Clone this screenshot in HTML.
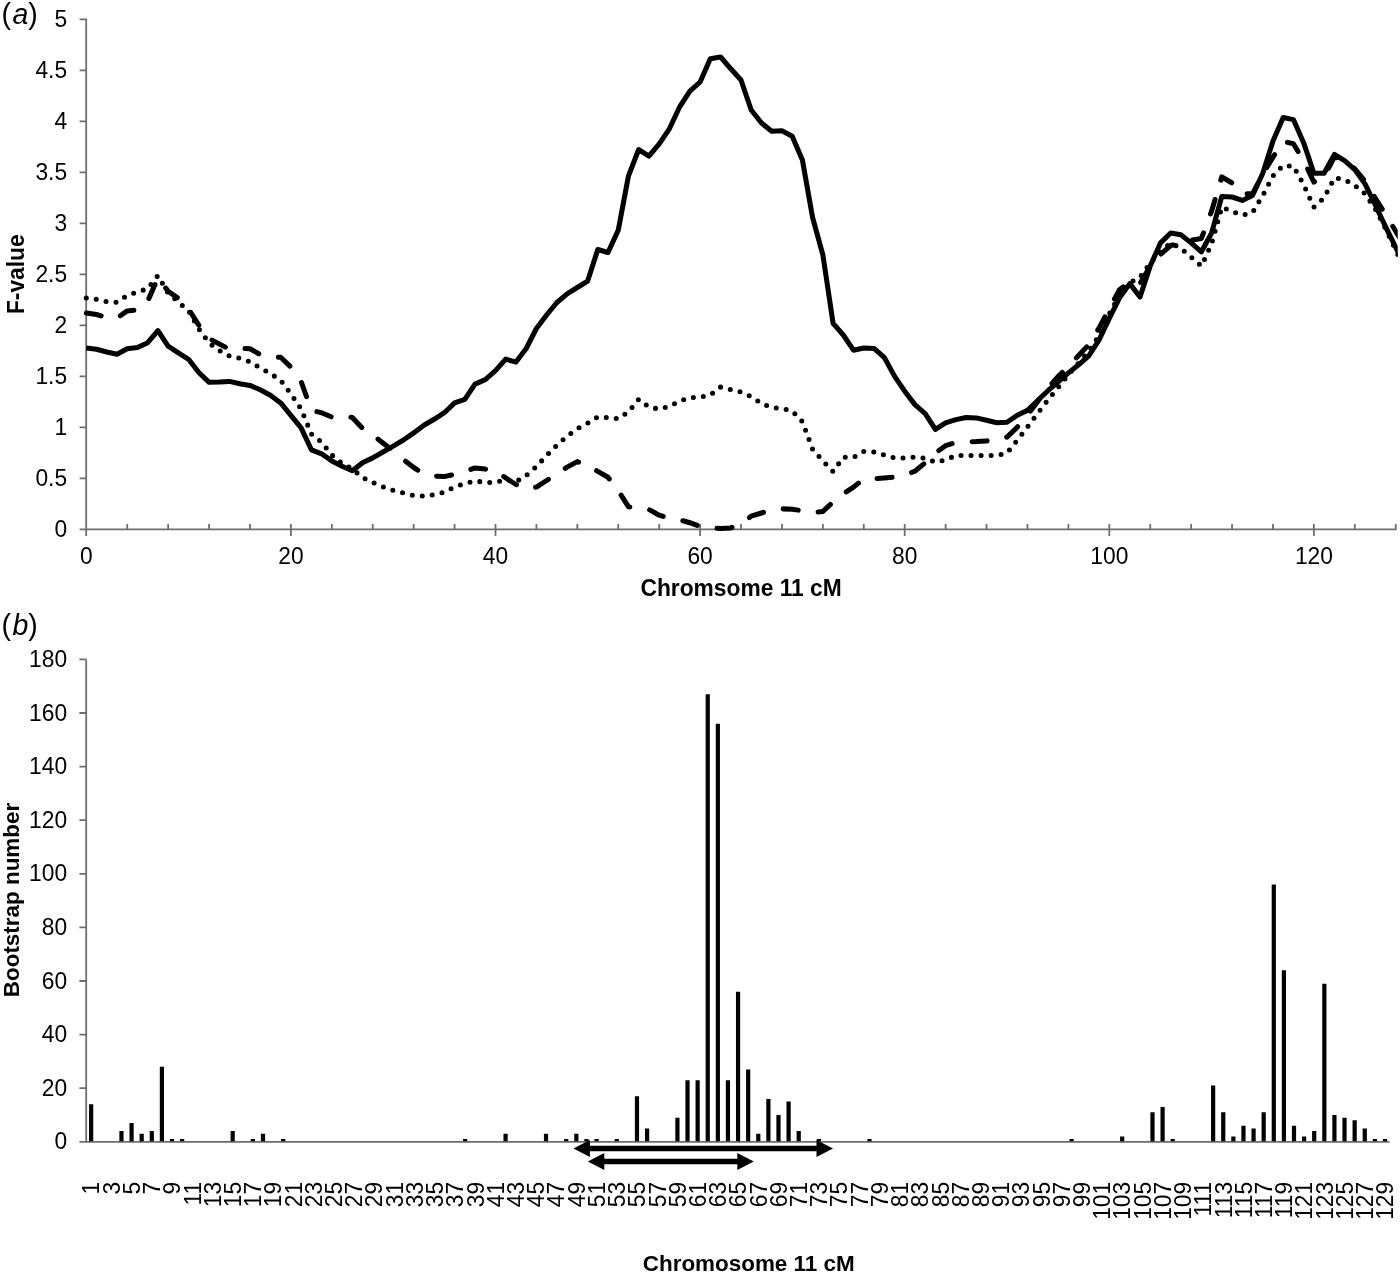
<!DOCTYPE html>
<html lang="en"><head><meta charset="utf-8"><title>Chromosome 11 QTL scan</title>
<style>html,body{margin:0;padding:0;background:#fff}svg{display:block}text{font-family:"Liberation Sans",Arial,sans-serif;fill:#000}.t{font-size:22.8px}.b{font-size:22.8px;font-weight:bold}.b2{font-size:22.45px;font-weight:bold}.p{font-size:28.5px}.ax{stroke:#6e6e6e;stroke-width:1.8;fill:none}.ln{stroke:#000;stroke-width:5.04;fill:none;stroke-linejoin:round}</style></head><body>
<svg width="1400" height="1274" viewBox="0 0 1400 1274">
<rect width="1400" height="1274" fill="#fff"/>
<g id="panel-a">
<text class="p" transform="translate(1.50 23.60) scale(1 1.020)">(</text>
<text class="p" transform="translate(12.50 23.80) scale(1 1.060)" font-style="italic">a</text>
<text class="p" transform="translate(28.30 23.60) scale(1 1.020)">)</text>
<path class="ax" d="M86.20 18.50V536.10 M79.60 529.30H1396.64 M79.60 478.30H86.20 M79.60 427.30H86.20 M79.60 376.30H86.20 M79.60 325.30H86.20 M79.60 274.30H86.20 M79.60 223.30H86.20 M79.60 172.30H86.20 M79.60 121.30H86.20 M79.60 70.30H86.20 M79.60 19.30H86.20 M127.22 524.00V529.30 M168.14 524.00V529.30 M209.06 524.00V529.30 M249.98 524.00V529.30 M290.90 524.00V536.10 M331.82 524.00V529.30 M372.74 524.00V529.30 M413.66 524.00V529.30 M454.58 524.00V529.30 M495.50 524.00V536.10 M536.42 524.00V529.30 M577.34 524.00V529.30 M618.26 524.00V529.30 M659.18 524.00V529.30 M700.10 524.00V536.10 M741.02 524.00V529.30 M781.94 524.00V529.30 M822.86 524.00V529.30 M863.78 524.00V529.30 M904.70 524.00V536.10 M945.62 524.00V529.30 M986.54 524.00V529.30 M1027.46 524.00V529.30 M1068.38 524.00V529.30 M1109.30 524.00V536.10 M1150.22 524.00V529.30 M1191.14 524.00V529.30 M1232.06 524.00V529.30 M1272.98 524.00V529.30 M1313.90 524.00V536.10 M1354.82 524.00V529.30 M1395.74 524.00V529.30"/>
<text class="t" text-anchor="end" transform="translate(67.10 536.90) scale(1 1.040)">0</text>
<text class="t" text-anchor="end" transform="translate(67.10 485.90) scale(1 1.040)">0.5</text>
<text class="t" text-anchor="end" transform="translate(67.10 434.90) scale(1 1.040)">1</text>
<text class="t" text-anchor="end" transform="translate(67.10 383.90) scale(1 1.040)">1.5</text>
<text class="t" text-anchor="end" transform="translate(67.10 332.90) scale(1 1.040)">2</text>
<text class="t" text-anchor="end" transform="translate(67.10 281.90) scale(1 1.040)">2.5</text>
<text class="t" text-anchor="end" transform="translate(67.10 230.90) scale(1 1.040)">3</text>
<text class="t" text-anchor="end" transform="translate(67.10 179.90) scale(1 1.040)">3.5</text>
<text class="t" text-anchor="end" transform="translate(67.10 128.90) scale(1 1.040)">4</text>
<text class="t" text-anchor="end" transform="translate(67.10 77.90) scale(1 1.040)">4.5</text>
<text class="t" text-anchor="end" transform="translate(67.10 26.90) scale(1 1.040)">5</text>
<text class="t" text-anchor="middle" transform="translate(86.30 564.00) scale(1 1.040)">0</text>
<text class="t" text-anchor="middle" transform="translate(290.90 564.00) scale(1 1.040)">20</text>
<text class="t" text-anchor="middle" transform="translate(495.50 564.00) scale(1 1.040)">40</text>
<text class="t" text-anchor="middle" transform="translate(700.10 564.00) scale(1 1.040)">60</text>
<text class="t" text-anchor="middle" transform="translate(904.70 564.00) scale(1 1.040)">80</text>
<text class="t" text-anchor="middle" transform="translate(1109.30 564.00) scale(1 1.040)">100</text>
<text class="t" text-anchor="middle" transform="translate(1313.90 564.00) scale(1 1.040)">120</text>
<text class="b" text-anchor="middle" transform="translate(741.10 596.00) scale(1 1.020)">Chromsome 11 cM</text>
<text class="b" text-anchor="middle" transform="translate(24.10 274.20) rotate(-90) scale(1 1.020)">F-value</text>
<clipPath id="plot-a"><rect x="80" y="0" width="1317.7" height="545"/></clipPath>
<g clip-path="url(#plot-a)">
<polyline class="ln" stroke-dasharray="0 10.03" stroke-linecap="round" points="86.3,298.0 96.5,299.3 106.8,301.6 117.0,302.3 127.2,295.4 137.4,292.1 147.7,288.6 157.9,275.7 168.1,293.0 178.4,302.0 188.6,310.9 198.8,328.8 209.1,343.0 219.3,350.5 229.5,355.9 239.8,358.2 250.0,361.8 260.2,368.0 270.4,373.4 280.7,380.5 290.9,393.9 301.1,409.1 311.4,434.1 321.6,442.1 331.8,455.0 342.1,463.6 352.3,468.9 362.5,477.5 372.7,482.5 383.0,486.8 393.2,490.4 403.4,493.0 413.7,495.5 423.9,496.2 434.1,494.6 444.4,492.3 454.6,486.8 464.8,483.8 475.0,480.9 485.3,482.5 495.5,482.5 505.7,479.6 516.0,481.8 526.2,475.5 536.4,466.6 546.6,455.5 556.9,445.2 567.1,436.2 577.3,428.6 587.6,423.2 597.8,417.0 608.0,417.5 618.3,418.8 628.5,411.8 638.7,399.3 648.9,407.1 659.2,409.1 669.4,406.4 679.6,401.1 689.9,397.7 700.1,397.1 710.3,395.0 720.6,387.1 730.8,389.6 741.0,392.0 751.2,396.6 761.5,403.4 771.7,407.5 781.9,408.6 792.2,410.9 802.4,421.6 812.6,449.3 822.9,460.9 833.1,471.6 843.3,457.3 853.5,457.3 863.8,451.4 874.0,452.1 884.2,455.0 894.5,458.0 904.7,457.9 914.9,457.0 925.2,458.2 935.4,462.3 945.6,460.0 955.9,455.4 966.1,455.4 976.3,455.4 986.5,455.4 996.8,455.4 1007.0,453.2 1017.2,440.4 1027.5,427.0 1037.7,413.4 1047.9,400.0 1058.2,387.5 1068.4,374.6 1078.6,363.0 1088.8,351.4 1099.1,335.4 1109.3,313.9 1119.5,295.2 1129.8,282.7 1140.0,277.3 1150.2,263.0 1160.5,251.8 1170.7,242.9 1180.9,248.2 1191.1,257.1 1201.4,266.1 1211.6,243.8 1221.8,207.1 1232.1,211.6 1242.3,215.2 1252.5,212.5 1262.8,195.5 1273.0,175.9 1283.2,165.5 1293.4,166.2 1303.7,184.8 1313.9,207.1 1324.1,197.9 1334.4,177.9 1344.6,179.5 1354.8,185.4 1365.0,193.8 1375.3,208.9 1385.5,228.6 1395.7,250.0 1406.0,271.4"/>
<polyline class="ln" stroke-dasharray="15.1 20.15" stroke-linecap="round" points="86.3,313.0 96.5,314.5 106.8,317.5 117.0,318.0 127.2,310.9 137.4,310.0 147.7,301.1 157.9,277.9 168.1,291.2 178.4,298.4 188.6,309.1 198.8,325.2 209.1,338.6 219.3,343.9 229.5,349.3 239.8,348.4 250.0,348.8 260.2,354.6 270.4,357.3 280.7,357.3 290.9,367.1 301.1,381.4 311.4,410.4 321.6,412.7 331.8,417.1 342.1,415.7 352.3,417.5 362.5,428.2 372.7,435.0 383.0,443.0 393.2,451.1 403.4,459.6 413.7,467.5 423.9,473.9 434.1,476.1 444.4,476.6 454.6,474.3 464.8,471.6 475.0,467.9 485.3,469.1 495.5,470.7 505.7,477.9 516.0,484.5 526.2,488.9 536.4,487.1 546.6,480.5 556.9,473.8 567.1,467.1 577.3,461.6 587.6,465.7 597.8,471.4 608.0,477.3 618.3,490.7 628.5,506.8 638.7,507.7 648.9,509.5 659.2,515.2 669.4,518.4 679.6,519.8 689.9,522.7 700.1,526.4 710.3,527.9 720.6,528.6 730.8,527.9 741.0,523.4 751.2,516.2 761.5,513.0 771.7,509.6 781.9,508.8 792.2,509.3 802.4,510.7 812.6,512.7 822.9,511.4 833.1,502.0 843.3,493.9 853.5,487.1 863.8,478.8 874.0,478.8 884.2,477.9 894.5,477.0 904.7,475.2 914.9,471.2 925.2,462.7 935.4,452.9 945.6,445.7 955.9,442.5 966.1,442.0 976.3,441.6 986.5,440.9 996.8,440.4 1007.0,437.1 1017.2,427.3 1027.5,414.8 1037.7,401.4 1047.9,388.0 1058.2,376.4 1068.4,366.6 1078.6,355.5 1088.8,344.6 1099.1,327.9 1109.3,308.6 1119.5,289.8 1129.8,281.8 1140.0,283.6 1150.2,266.1 1160.5,254.5 1170.7,245.5 1180.9,242.9 1191.1,240.2 1201.4,238.4 1211.6,211.1 1221.8,176.8 1232.1,183.0 1242.3,193.8 1252.5,193.8 1262.8,174.1 1273.0,157.1 1283.2,141.4 1293.4,143.8 1303.7,160.7 1313.9,182.1 1324.1,176.4 1334.4,157.0 1344.6,160.4 1354.8,168.8 1365.0,181.2 1375.3,198.2 1385.5,214.3 1395.7,231.2 1406.0,248.2"/>
<polyline class="ln" points="86.3,347.9 96.5,349.3 106.8,352.0 117.0,354.3 127.2,348.8 137.4,347.5 147.7,342.7 157.9,330.7 168.1,346.1 178.4,352.9 188.6,359.3 198.8,372.5 209.1,382.3 219.3,382.0 229.5,381.4 239.8,383.8 250.0,385.4 260.2,389.8 270.4,395.2 280.7,402.9 290.9,415.4 301.1,427.9 311.4,449.8 321.6,453.8 331.8,460.9 342.1,466.2 352.3,470.7 362.5,462.7 372.7,457.9 383.0,452.0 393.2,446.1 403.4,440.0 413.7,432.9 423.9,425.2 434.1,419.3 444.4,412.7 454.6,402.9 464.8,399.3 475.0,384.1 485.3,379.6 495.5,370.7 505.7,359.1 516.0,362.1 526.2,348.5 536.4,328.5 546.6,315.0 556.9,302.5 567.1,293.8 577.3,287.5 587.6,281.2 597.8,249.5 608.0,252.5 618.3,230.0 628.5,175.8 638.7,149.5 648.9,156.2 659.2,143.8 669.4,128.8 679.6,107.0 689.9,91.2 700.1,82.0 710.3,58.8 720.6,57.0 730.8,68.8 741.0,80.0 751.2,110.0 761.5,123.0 771.7,131.2 781.9,130.8 792.2,136.2 802.4,160.0 812.6,217.5 822.9,255.0 833.1,323.4 843.3,335.0 853.5,350.2 863.8,348.0 874.0,348.4 884.2,357.3 894.5,376.1 904.7,391.2 914.9,404.6 925.2,413.6 935.4,429.3 945.6,422.9 955.9,419.6 966.1,417.5 976.3,417.9 986.5,420.2 996.8,422.7 1007.0,422.3 1017.2,415.2 1027.5,410.4 1037.7,400.5 1047.9,390.7 1058.2,381.8 1068.4,372.9 1078.6,364.8 1088.8,355.9 1099.1,339.8 1109.3,318.4 1119.5,297.9 1129.8,283.6 1140.0,297.0 1150.2,266.1 1160.5,242.9 1170.7,233.0 1180.9,234.8 1191.1,242.9 1201.4,251.8 1211.6,233.0 1221.8,196.4 1232.1,197.0 1242.3,200.4 1252.5,195.5 1262.8,173.2 1273.0,141.1 1283.2,117.5 1293.4,119.6 1303.7,142.9 1313.9,173.2 1324.1,173.2 1334.4,154.5 1344.6,160.7 1354.8,169.6 1365.0,183.9 1375.3,205.0 1385.5,226.6 1395.7,247.3 1406.0,268.0"/>
</g>
</g>
<g id="panel-b">
<text class="p" transform="translate(1.50 634.70) scale(1 1.020)">(</text>
<text class="p" transform="translate(12.50 635.30) scale(1 1.040)" font-style="italic">b</text>
<text class="p" transform="translate(28.30 634.70) scale(1 1.020)">)</text>
<path class="ax" d="M86.20 659.40V1142.60 M79.40 1141.80H1389.60 M79.40 1088.20H86.20 M79.40 1034.60H86.20 M79.40 981.00H86.20 M79.40 927.40H86.20 M79.40 873.80H86.20 M79.40 820.20H86.20 M79.40 766.60H86.20 M79.40 713.00H86.20 M79.40 659.40H86.20"/>
<text class="t" text-anchor="end" transform="translate(67.10 1149.40) scale(1 1.040)">0</text>
<text class="t" text-anchor="end" transform="translate(67.10 1095.80) scale(1 1.040)">20</text>
<text class="t" text-anchor="end" transform="translate(67.10 1042.20) scale(1 1.040)">40</text>
<text class="t" text-anchor="end" transform="translate(67.10 988.60) scale(1 1.040)">60</text>
<text class="t" text-anchor="end" transform="translate(67.10 935.00) scale(1 1.040)">80</text>
<text class="t" text-anchor="end" transform="translate(67.10 881.40) scale(1 1.040)">100</text>
<text class="t" text-anchor="end" transform="translate(67.10 827.80) scale(1 1.040)">120</text>
<text class="t" text-anchor="end" transform="translate(67.10 774.20) scale(1 1.040)">140</text>
<text class="t" text-anchor="end" transform="translate(67.10 720.60) scale(1 1.040)">160</text>
<text class="t" text-anchor="end" transform="translate(67.10 667.00) scale(1 1.040)">180</text>
<path fill="#000" d="M89.05 1141.30h4.2V1104.28h-4.2zM119.37 1141.30h4.2V1131.08h-4.2zM129.48 1141.30h4.2V1123.04h-4.2zM139.59 1141.30h4.2V1133.76h-4.2zM149.70 1141.30h4.2V1131.08h-4.2zM159.81 1141.30h4.2V1066.76h-4.2zM169.91 1141.30h4.2V1139.12h-4.2zM180.02 1141.30h4.2V1139.12h-4.2zM230.56 1141.30h4.2V1131.08h-4.2zM250.78 1141.30h4.2V1139.12h-4.2zM260.89 1141.30h4.2V1133.76h-4.2zM281.10 1141.30h4.2V1139.12h-4.2zM463.05 1141.30h4.2V1139.12h-4.2zM503.48 1141.30h4.2V1133.76h-4.2zM543.91 1141.30h4.2V1133.76h-4.2zM564.13 1141.30h4.2V1139.12h-4.2zM574.23 1141.30h4.2V1133.76h-4.2zM584.34 1141.30h4.2V1139.12h-4.2zM594.45 1141.30h4.2V1139.12h-4.2zM614.67 1141.30h4.2V1139.12h-4.2zM634.88 1141.30h4.2V1096.24h-4.2zM644.99 1141.30h4.2V1128.40h-4.2zM675.31 1141.30h4.2V1117.68h-4.2zM685.42 1141.30h4.2V1080.16h-4.2zM695.53 1141.30h4.2V1080.16h-4.2zM705.64 1141.30h4.2V694.24h-4.2zM715.75 1141.30h4.2V723.72h-4.2zM725.85 1141.30h4.2V1080.16h-4.2zM735.96 1141.30h4.2V991.72h-4.2zM746.07 1141.30h4.2V1069.44h-4.2zM756.18 1141.30h4.2V1133.76h-4.2zM766.29 1141.30h4.2V1098.92h-4.2zM776.39 1141.30h4.2V1115.00h-4.2zM786.50 1141.30h4.2V1101.60h-4.2zM796.61 1141.30h4.2V1131.08h-4.2zM816.83 1141.30h4.2V1139.12h-4.2zM867.37 1141.30h4.2V1139.12h-4.2zM1069.53 1141.30h4.2V1139.12h-4.2zM1120.07 1141.30h4.2V1136.44h-4.2zM1150.39 1141.30h4.2V1112.32h-4.2zM1160.50 1141.30h4.2V1106.96h-4.2zM1170.61 1141.30h4.2V1139.12h-4.2zM1211.04 1141.30h4.2V1085.52h-4.2zM1221.15 1141.30h4.2V1112.32h-4.2zM1231.25 1141.30h4.2V1136.44h-4.2zM1241.36 1141.30h4.2V1125.72h-4.2zM1251.47 1141.30h4.2V1128.40h-4.2zM1261.58 1141.30h4.2V1112.32h-4.2zM1271.69 1141.30h4.2V884.52h-4.2zM1281.79 1141.30h4.2V970.28h-4.2zM1291.90 1141.30h4.2V1125.72h-4.2zM1302.01 1141.30h4.2V1136.44h-4.2zM1312.12 1141.30h4.2V1131.08h-4.2zM1322.23 1141.30h4.2V983.68h-4.2zM1332.33 1141.30h4.2V1115.00h-4.2zM1342.44 1141.30h4.2V1117.68h-4.2zM1352.55 1141.30h4.2V1120.36h-4.2zM1362.66 1141.30h4.2V1128.40h-4.2zM1372.77 1141.30h4.2V1139.12h-4.2zM1382.87 1141.30h4.2V1139.12h-4.2z"/>
<text class="t" text-anchor="end" transform="translate(99.45 1181.80) rotate(-90) scale(1 1.040)">1</text>
<text class="t" text-anchor="end" transform="translate(119.67 1181.80) rotate(-90) scale(1 1.040)">3</text>
<text class="t" text-anchor="end" transform="translate(139.88 1181.80) rotate(-90) scale(1 1.040)">5</text>
<text class="t" text-anchor="end" transform="translate(160.10 1181.80) rotate(-90) scale(1 1.040)">7</text>
<text class="t" text-anchor="end" transform="translate(180.31 1181.80) rotate(-90) scale(1 1.040)">9</text>
<text class="t" text-anchor="end" transform="translate(200.53 1181.80) rotate(-90) scale(1 1.040)">11</text>
<text class="t" text-anchor="end" transform="translate(220.75 1181.80) rotate(-90) scale(1 1.040)">13</text>
<text class="t" text-anchor="end" transform="translate(240.96 1181.80) rotate(-90) scale(1 1.040)">15</text>
<text class="t" text-anchor="end" transform="translate(261.18 1181.80) rotate(-90) scale(1 1.040)">17</text>
<text class="t" text-anchor="end" transform="translate(281.39 1181.80) rotate(-90) scale(1 1.040)">19</text>
<text class="t" text-anchor="end" transform="translate(301.61 1181.80) rotate(-90) scale(1 1.040)">21</text>
<text class="t" text-anchor="end" transform="translate(321.83 1181.80) rotate(-90) scale(1 1.040)">23</text>
<text class="t" text-anchor="end" transform="translate(342.04 1181.80) rotate(-90) scale(1 1.040)">25</text>
<text class="t" text-anchor="end" transform="translate(362.26 1181.80) rotate(-90) scale(1 1.040)">27</text>
<text class="t" text-anchor="end" transform="translate(382.47 1181.80) rotate(-90) scale(1 1.040)">29</text>
<text class="t" text-anchor="end" transform="translate(402.69 1181.80) rotate(-90) scale(1 1.040)">31</text>
<text class="t" text-anchor="end" transform="translate(422.91 1181.80) rotate(-90) scale(1 1.040)">33</text>
<text class="t" text-anchor="end" transform="translate(443.12 1181.80) rotate(-90) scale(1 1.040)">35</text>
<text class="t" text-anchor="end" transform="translate(463.34 1181.80) rotate(-90) scale(1 1.040)">37</text>
<text class="t" text-anchor="end" transform="translate(483.55 1181.80) rotate(-90) scale(1 1.040)">39</text>
<text class="t" text-anchor="end" transform="translate(503.77 1181.80) rotate(-90) scale(1 1.040)">41</text>
<text class="t" text-anchor="end" transform="translate(523.99 1181.80) rotate(-90) scale(1 1.040)">43</text>
<text class="t" text-anchor="end" transform="translate(544.20 1181.80) rotate(-90) scale(1 1.040)">45</text>
<text class="t" text-anchor="end" transform="translate(564.42 1181.80) rotate(-90) scale(1 1.040)">47</text>
<text class="t" text-anchor="end" transform="translate(584.63 1181.80) rotate(-90) scale(1 1.040)">49</text>
<text class="t" text-anchor="end" transform="translate(604.85 1181.80) rotate(-90) scale(1 1.040)">51</text>
<text class="t" text-anchor="end" transform="translate(625.07 1181.80) rotate(-90) scale(1 1.040)">53</text>
<text class="t" text-anchor="end" transform="translate(645.28 1181.80) rotate(-90) scale(1 1.040)">55</text>
<text class="t" text-anchor="end" transform="translate(665.50 1181.80) rotate(-90) scale(1 1.040)">57</text>
<text class="t" text-anchor="end" transform="translate(685.71 1181.80) rotate(-90) scale(1 1.040)">59</text>
<text class="t" text-anchor="end" transform="translate(705.93 1181.80) rotate(-90) scale(1 1.040)">61</text>
<text class="t" text-anchor="end" transform="translate(726.15 1181.80) rotate(-90) scale(1 1.040)">63</text>
<text class="t" text-anchor="end" transform="translate(746.36 1181.80) rotate(-90) scale(1 1.040)">65</text>
<text class="t" text-anchor="end" transform="translate(766.58 1181.80) rotate(-90) scale(1 1.040)">67</text>
<text class="t" text-anchor="end" transform="translate(786.79 1181.80) rotate(-90) scale(1 1.040)">69</text>
<text class="t" text-anchor="end" transform="translate(807.01 1181.80) rotate(-90) scale(1 1.040)">71</text>
<text class="t" text-anchor="end" transform="translate(827.23 1181.80) rotate(-90) scale(1 1.040)">73</text>
<text class="t" text-anchor="end" transform="translate(847.44 1181.80) rotate(-90) scale(1 1.040)">75</text>
<text class="t" text-anchor="end" transform="translate(867.66 1181.80) rotate(-90) scale(1 1.040)">77</text>
<text class="t" text-anchor="end" transform="translate(887.87 1181.80) rotate(-90) scale(1 1.040)">79</text>
<text class="t" text-anchor="end" transform="translate(908.09 1181.80) rotate(-90) scale(1 1.040)">81</text>
<text class="t" text-anchor="end" transform="translate(928.31 1181.80) rotate(-90) scale(1 1.040)">83</text>
<text class="t" text-anchor="end" transform="translate(948.52 1181.80) rotate(-90) scale(1 1.040)">85</text>
<text class="t" text-anchor="end" transform="translate(968.74 1181.80) rotate(-90) scale(1 1.040)">87</text>
<text class="t" text-anchor="end" transform="translate(988.95 1181.80) rotate(-90) scale(1 1.040)">89</text>
<text class="t" text-anchor="end" transform="translate(1009.17 1181.80) rotate(-90) scale(1 1.040)">91</text>
<text class="t" text-anchor="end" transform="translate(1029.39 1181.80) rotate(-90) scale(1 1.040)">93</text>
<text class="t" text-anchor="end" transform="translate(1049.60 1181.80) rotate(-90) scale(1 1.040)">95</text>
<text class="t" text-anchor="end" transform="translate(1069.82 1181.80) rotate(-90) scale(1 1.040)">97</text>
<text class="t" text-anchor="end" transform="translate(1090.03 1181.80) rotate(-90) scale(1 1.040)">99</text>
<text class="t" text-anchor="end" transform="translate(1110.25 1181.80) rotate(-90) scale(1 1.040)">101</text>
<text class="t" text-anchor="end" transform="translate(1130.47 1181.80) rotate(-90) scale(1 1.040)">103</text>
<text class="t" text-anchor="end" transform="translate(1150.68 1181.80) rotate(-90) scale(1 1.040)">105</text>
<text class="t" text-anchor="end" transform="translate(1170.90 1181.80) rotate(-90) scale(1 1.040)">107</text>
<text class="t" text-anchor="end" transform="translate(1191.11 1181.80) rotate(-90) scale(1 1.040)">109</text>
<text class="t" text-anchor="end" transform="translate(1211.33 1181.80) rotate(-90) scale(1 1.040)">111</text>
<text class="t" text-anchor="end" transform="translate(1231.55 1181.80) rotate(-90) scale(1 1.040)">113</text>
<text class="t" text-anchor="end" transform="translate(1251.76 1181.80) rotate(-90) scale(1 1.040)">115</text>
<text class="t" text-anchor="end" transform="translate(1271.98 1181.80) rotate(-90) scale(1 1.040)">117</text>
<text class="t" text-anchor="end" transform="translate(1292.19 1181.80) rotate(-90) scale(1 1.040)">119</text>
<text class="t" text-anchor="end" transform="translate(1312.41 1181.80) rotate(-90) scale(1 1.040)">121</text>
<text class="t" text-anchor="end" transform="translate(1332.63 1181.80) rotate(-90) scale(1 1.040)">123</text>
<text class="t" text-anchor="end" transform="translate(1352.84 1181.80) rotate(-90) scale(1 1.040)">125</text>
<text class="t" text-anchor="end" transform="translate(1373.06 1181.80) rotate(-90) scale(1 1.040)">127</text>
<text class="t" text-anchor="end" transform="translate(1393.27 1181.80) rotate(-90) scale(1 1.040)">129</text>
<text class="b2" text-anchor="middle" transform="translate(748.70 1270.70) scale(1 1.020)">Chromosome 11 cM</text>
<text class="b2" text-anchor="middle" transform="translate(18.90 900.00) rotate(-90) scale(1 1.020)">Bootstrap number</text>
<path fill="#000" d="M573.4 1148.5L589.9 1139.9V1145.8H816.5V1139.9L833.0 1148.5L816.5 1157.1V1151.2H589.9V1157.1z"/>
<path fill="#000" d="M587.8 1161.5L604.3 1152.9V1158.8H737.3V1152.9L753.8 1161.5L737.3 1170.1V1164.2H604.3V1170.1z"/>
</g>
</svg></body></html>
